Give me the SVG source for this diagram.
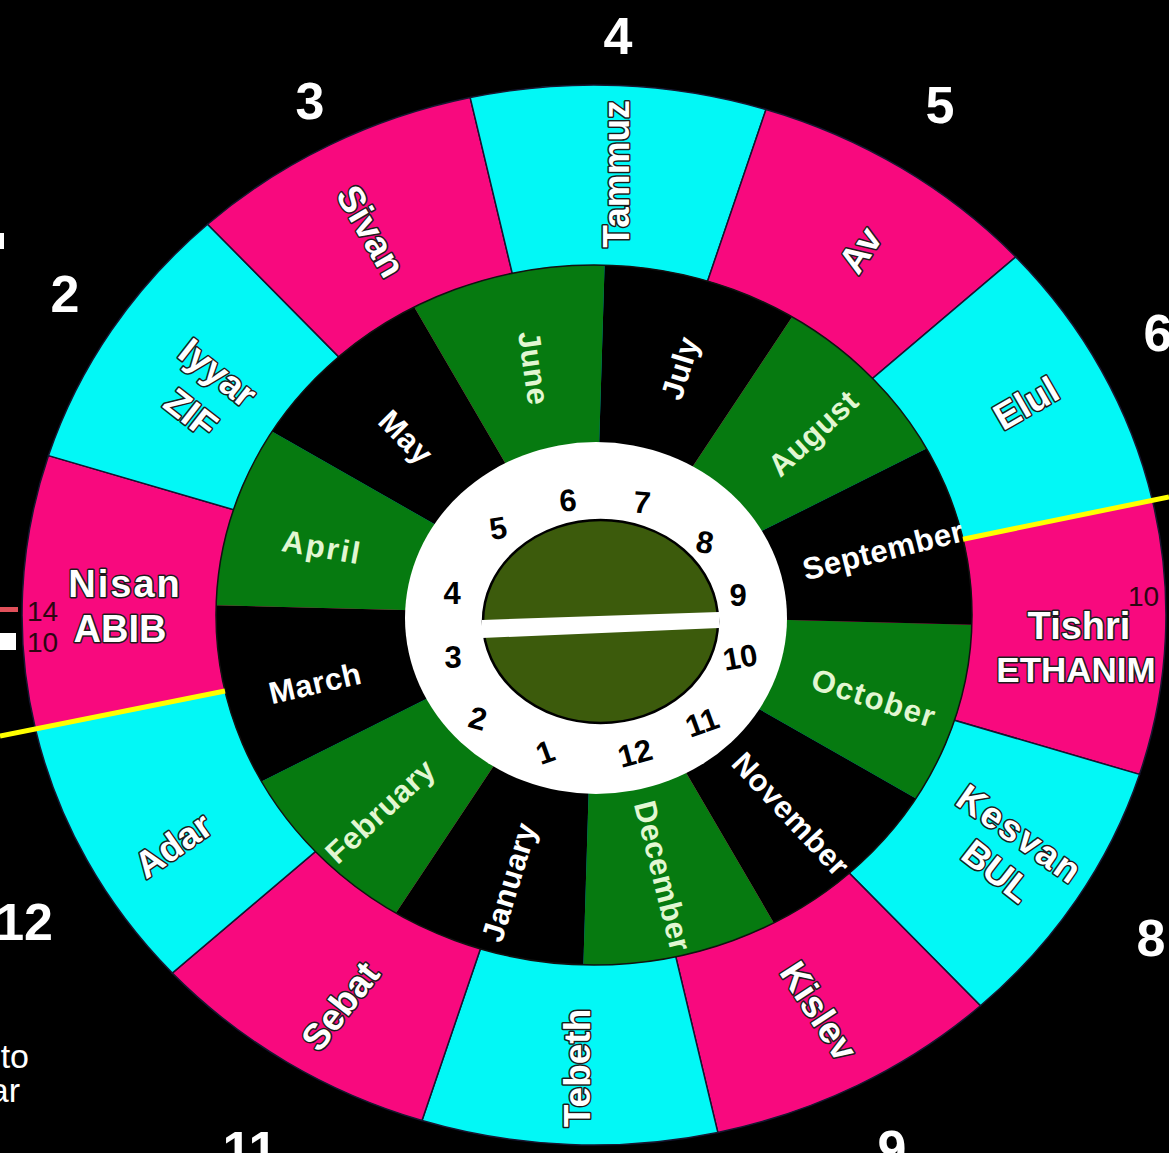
<svg xmlns="http://www.w3.org/2000/svg" width="1169" height="1153" viewBox="0 0 1169 1153">
<style>
.pink{fill:#f8097e;stroke:#161630;stroke-width:1.5}
.cyan{fill:#02f8f6;stroke:#161630;stroke-width:1.5}
.grn{fill:#067a10}
.blk{fill:#000}
.ol{font-family:"Liberation Sans",Arial,sans-serif;font-weight:bold;font-size:37px;fill:#fff;stroke:#1c1c1c;stroke-width:3;paint-order:stroke;stroke-linejoin:round;text-anchor:middle}
.ml{font-family:"Liberation Sans",Arial,sans-serif;font-weight:bold;font-size:31px;fill:#fff;text-anchor:middle;letter-spacing:0.5px}
.mg{fill:#e2f7d2}
.num{font-family:"Liberation Sans",Arial,sans-serif;font-weight:bold;font-size:31px;fill:#000;text-anchor:middle}
.big{font-family:"Liberation Sans",Arial,sans-serif;font-weight:bold;font-size:52px;fill:#fff;text-anchor:middle}
.sm{font-family:"Liberation Sans",Arial,sans-serif;font-size:28px;fill:#2c0612}
.side{font-family:"Liberation Sans",Arial,sans-serif;font-size:34px;fill:#fff;text-anchor:end}
</style>
<rect width="1169" height="1153" fill="#000"/>

<g id="outer-ring">
<g id="nisan"><path class="pink" d="M594,615 L35.6,729.7 A572,530 0 0 1 48.5,455.6 Z"/></g>
<g id="iyyar"><path class="cyan" d="M594,615 L48.5,455.6 A572,530 0 0 1 207.6,224.2 Z"/></g>
<g id="sivan"><path class="pink" d="M594,615 L207.6,224.2 A572,530 0 0 1 470.2,97.6 Z"/></g>
<g id="tammuz"><path class="cyan" d="M594,615 L470.2,97.6 A572,530 0 0 1 766,109.5 Z"/></g>
<g id="av"><path class="pink" d="M594,615 L766,109.5 A572,530 0 0 1 1015.7,256.9 Z"/></g>
<g id="elul"><path class="cyan" d="M594,615 L1015.7,256.9 A572,530 0 0 1 1152.4,500.3 Z"/></g>
<g id="tishri"><path class="pink" d="M594,615 L1152.4,500.3 A572,530 0 0 1 1139.5,774.4 Z"/></g>
<g id="kesvan"><path class="cyan" d="M594,615 L1139.5,774.4 A572,530 0 0 1 980.4,1005.8 Z"/></g>
<g id="kislev"><path class="pink" d="M594,615 L980.4,1005.8 A572,530 0 0 1 717.8,1132.4 Z"/></g>
<g id="tebeth"><path class="cyan" d="M594,615 L717.8,1132.4 A572,530 0 0 1 422,1120.5 Z"/></g>
<g id="sebat"><path class="pink" d="M594,615 L422,1120.5 A572,530 0 0 1 172.3,973.1 Z"/></g>
<g id="adar"><path class="cyan" d="M594,615 L172.3,973.1 A572,530 0 0 1 35.6,729.7 Z"/></g>
</g>

<g id="middle-ring">
<g id="october"><path class="grn" d="M594,615 L971.9,624.8 A378,350 0 0 1 916,798.4 Z"/></g>
<g id="november"><path class="blk" d="M594,615 L916,798.4 A378,350 0 0 1 773.8,922.9 Z"/></g>
<g id="december"><path class="grn" d="M594,615 L773.8,922.9 A378,350 0 0 1 583.4,964.9 Z"/></g>
<g id="january"><path class="blk" d="M594,615 L583.4,964.9 A378,350 0 0 1 395.9,913.1 Z"/></g>
<g id="february"><path class="grn" d="M594,615 L395.9,913.1 A378,350 0 0 1 261.5,781.5 Z"/></g>
<g id="march"><path class="blk" d="M594,615 L261.5,781.5 A378,350 0 0 1 216.1,605.2 Z"/></g>
<g id="april"><path class="grn" d="M594,615 L216.1,605.2 A378,350 0 0 1 272,431.6 Z"/></g>
<g id="may"><path class="blk" d="M594,615 L272,431.6 A378,350 0 0 1 414.2,307.1 Z"/></g>
<g id="june"><path class="grn" d="M594,615 L414.2,307.1 A378,350 0 0 1 604.6,265.1 Z"/></g>
<g id="july"><path class="blk" d="M594,615 L604.6,265.1 A378,350 0 0 1 792.1,316.9 Z"/></g>
<g id="august"><path class="grn" d="M594,615 L792.1,316.9 A378,350 0 0 1 926.5,448.5 Z"/></g>
<g id="september"><path class="blk" d="M594,615 L926.5,448.5 A378,350 0 0 1 971.9,624.8 Z"/></g>
<ellipse cx="594" cy="615" rx="378" ry="350" fill="none" stroke="#111" stroke-width="1.5"/>
</g>

<g id="hub">
<ellipse cx="596" cy="618" rx="191" ry="176" fill="#fff"/>
<ellipse cx="600.5" cy="621.5" rx="117.5" ry="101.5" fill="#3c5b0c" stroke="#000" stroke-width="2.5"/>
<polygon points="482,620 719,612 719,628 482,638" fill="#fff"/>
<text class="num" transform="translate(568,500) rotate(-5)" dy="11">6</text>
<text class="num" transform="translate(642,502) rotate(5)" dy="11">7</text>
<text class="num" transform="translate(498,528) rotate(-10)" dy="11">5</text>
<text class="num" transform="translate(705,542) rotate(10)" dy="11">8</text>
<text class="num" transform="translate(452,593)" dy="11">4</text>
<text class="num" transform="translate(738,595)" dy="11">9</text>
<text class="num" transform="translate(453,657)" dy="11">3</text>
<text class="num" transform="translate(740,657) rotate(-10)" dy="11">10</text>
<text class="num" transform="translate(478,718) rotate(15)" dy="11">2</text>
<text class="num" transform="translate(702,722) rotate(-20)" dy="11">11</text>
<text class="num" transform="translate(545,752) rotate(-20)" dy="11">1</text>
<text class="num" transform="translate(635,753) rotate(-15)" dy="11">12</text>
</g>

<g id="connectors">
<line x1="0" y1="736" x2="225" y2="691" stroke="#ffff00" stroke-width="5"/>
<line x1="963" y1="539.2" x2="1169" y2="496.9" stroke="#ffff00" stroke-width="5"/>
<rect x="0" y="607" width="18" height="5" fill="#e0505a"/>
<rect x="0" y="633" width="16" height="17" fill="#fff"/>
</g>

<g id="outer-labels">
<text class="ol" x="125" y="597" style="font-size:38px;letter-spacing:2px">Nisan</text>
<text class="ol" x="120" y="642" style="font-size:38px">ABIB</text>
<text class="ol" transform="translate(217,374) rotate(38)" dy="0.3em">Iyyar</text>
<text class="ol" transform="translate(191,413) rotate(38)" dy="0.35em">ZIF</text>
<text class="ol" transform="translate(371,231) rotate(60)" dy="0.35em">Sivan</text>
<text class="ol" transform="translate(616,174) rotate(-90)" dy="0.35em">Tammuz</text>
<text class="ol" transform="translate(860,250) rotate(-57)" dy="0.35em">Av</text>
<text class="ol" transform="translate(1026,403) rotate(-30)" dy="0.35em">Elul</text>
<text class="ol" x="1079" y="639" style="font-size:38px">Tishri</text>
<text class="ol" x="1076" y="682" style="font-size:35px">ETHANIM</text>
<text class="ol" transform="translate(1020,834) rotate(35)" dy="0.35em" style="letter-spacing:2px">Kesvan</text>
<text class="ol" transform="translate(997,871) rotate(38)" dy="0.35em">BUL</text>
<text class="ol" transform="translate(819,1011) rotate(57)" dy="0.35em">Kislev</text>
<text class="ol" transform="translate(577,1068) rotate(-90)" dy="0.35em">Tebeth</text>
<text class="ol" transform="translate(340,1006) rotate(-52)" dy="0.35em">Sebat</text>
<text class="ol" transform="translate(173,845) rotate(-35)" dy="0.35em">Adar</text>
<text class="sm" x="27" y="621">14</text>
<text class="sm" x="27" y="652">10</text>
<text class="sm" x="1128" y="606">10</text>
</g>

<g id="middle-labels">
<text class="ml mg" transform="translate(322,547) rotate(10)" dy="0.35em" style="letter-spacing:2px">April</text>
<text class="ml" transform="translate(406,437) rotate(45)" dy="0.35em">May</text>
<text class="ml mg" transform="translate(534,368) rotate(82)" dy="0.35em">June</text>
<text class="ml" transform="translate(680,368) rotate(-73)" dy="0.35em">July</text>
<text class="ml mg" transform="translate(813,433) rotate(-43)" dy="0.35em">August</text>
<text class="ml" transform="translate(883,550) rotate(-14)" dy="0.35em">September</text>
<text class="ml mg" transform="translate(874,698) rotate(18)" dy="0.35em" style="letter-spacing:1.5px">October</text>
<text class="ml" transform="translate(791,814) rotate(47)" dy="0.35em">November</text>
<text class="ml mg" transform="translate(663,876) rotate(76)" dy="0.35em">December</text>
<text class="ml" transform="translate(509,882) rotate(-73)" dy="0.35em">January</text>
<text class="ml mg" transform="translate(380,811) rotate(-43)" dy="0.35em">February</text>
<text class="ml" transform="translate(315,683) rotate(-13)" dy="0.35em">March</text>
</g>

<g id="month-numbers">
<text class="big" x="65" y="312">2</text>
<text class="big" x="310" y="119">3</text>
<text class="big" x="618" y="54">4</text>
<text class="big" x="940" y="123">5</text>
<text class="big" x="1158" y="351">6</text>
<text class="big" x="1151" y="956">8</text>
<text class="big" x="892" y="1167">9</text>
<text class="big" x="250" y="1168">11</text>
<text class="big" x="53" y="940" style="text-anchor:end">12</text>
</g>

<g id="margin-text">
<rect x="0" y="233" width="4" height="16" fill="#fff"/>
<text class="side" x="29" y="1068">to</text>
<text class="side" x="20" y="1102">ar</text>
</g>
</svg>
